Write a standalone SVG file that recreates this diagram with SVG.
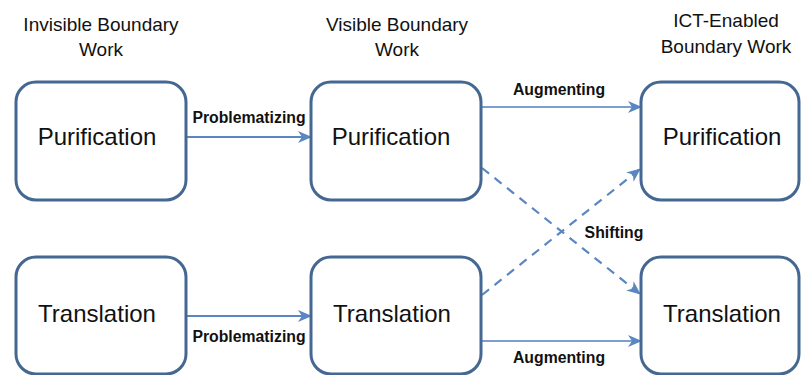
<svg xmlns="http://www.w3.org/2000/svg" width="801" height="375" viewBox="0 0 801 375">
<defs>
<marker id="ah" viewBox="0 0 14 12" refX="13" refY="6" markerWidth="14" markerHeight="12" markerUnits="userSpaceOnUse" orient="auto">
<path d="M0,0 L14,6 L0,12 L4,6 Z" fill="#5a86c2"/>
</marker>
</defs>
<style>
.box{fill:#fff;stroke:#456892;stroke-width:3}
.lbl{font-family:"Liberation Sans",Arial,sans-serif;font-size:24px;fill:#111;text-anchor:middle}
.hdr{font-family:"Liberation Sans",Arial,sans-serif;font-size:19px;fill:#111;text-anchor:middle}
.el{font-family:"Liberation Sans",Arial,sans-serif;font-size:15.8px;font-weight:bold;fill:#111;text-anchor:middle}
.arr{fill:none;stroke:#5a86c2;stroke-width:2.2;marker-end:url(#ah)}
.aug{stroke:#7d9fd0}
.dash{stroke-dasharray:9 7}
</style>
<rect width="801" height="375" fill="#fff"/>
<g id="headers">
<text class="hdr" x="101" y="31">Invisible Boundary</text>
<text class="hdr" x="101" y="56">Work</text>
<text class="hdr" x="397" y="31">Visible Boundary</text>
<text class="hdr" x="397" y="56">Work</text>
<text class="hdr" x="726" y="27">ICT-Enabled</text>
<text class="hdr" x="726" y="53">Boundary Work</text>
</g>
<g id="connectors">
<line class="arr" x1="186" y1="137" x2="311" y2="137"/>
<line class="arr" x1="186" y1="316" x2="311" y2="316"/>
<line class="arr aug" x1="481" y1="107" x2="641" y2="107"/>
<line class="arr aug" x1="481" y1="341" x2="641" y2="341"/>
<line class="arr dash" x1="482" y1="168" x2="640" y2="294"/>
<line class="arr dash" x1="482" y1="295" x2="640" y2="169"/>
<text class="el" x="249" y="123">Problematizing</text>
<text class="el" x="249" y="342">Problematizing</text>
<text class="el" x="559" y="95">Augmenting</text>
<text class="el" x="559" y="363">Augmenting</text>
<text class="el" x="614" y="238">Shifting</text>
</g>
<g id="n1"><rect class="box" x="16" y="82" width="170" height="118" rx="20"/><text class="lbl" x="97" y="145">Purification</text></g>
<g id="n2"><rect class="box" x="311" y="82" width="170" height="118" rx="20"/><text class="lbl" x="391" y="145">Purification</text></g>
<g id="n3"><rect class="box" x="641" y="82" width="158" height="118" rx="20"/><text class="lbl" x="722" y="145">Purification</text></g>
<g id="n4"><rect class="box" x="16" y="257" width="170" height="117" rx="20"/><text class="lbl" x="97" y="322">Translation</text></g>
<g id="n5"><rect class="box" x="311" y="257" width="170" height="117" rx="20"/><text class="lbl" x="392" y="322">Translation</text></g>
<g id="n6"><rect class="box" x="641" y="257" width="158" height="117" rx="20"/><text class="lbl" x="722" y="322">Translation</text></g>
</svg>
